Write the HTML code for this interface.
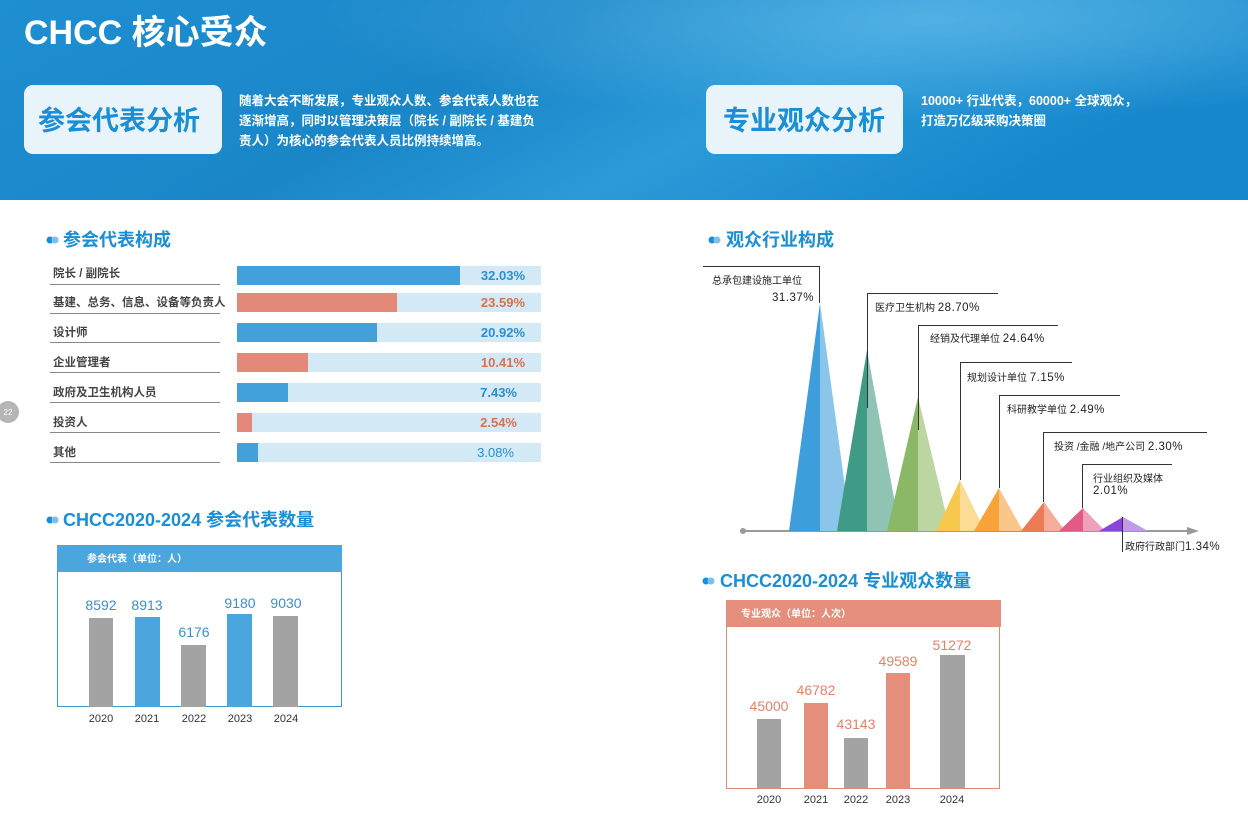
<!DOCTYPE html>
<html><head><meta charset="utf-8"><style>
body{margin:0;width:1248px;height:816px;overflow:hidden;background:#fff;font-family:"Liberation Sans","Noto Sans CJK SC",sans-serif;}
svg{display:block}
</style></head><body>
<svg width="1248" height="816" xmlns="http://www.w3.org/2000/svg" font-family="Liberation Sans, Noto Sans CJK SC, sans-serif">
<defs>
<linearGradient id="hg" x1="0" y1="0" x2="1" y2="0.3">
<stop offset="0" stop-color="#1e8fd2"/><stop offset="0.45" stop-color="#1a86c8"/><stop offset="0.7" stop-color="#2a9ad8"/><stop offset="1" stop-color="#1687cc"/>
</linearGradient>
<radialGradient id="glow" cx="0.75" cy="0.1" r="0.5"><stop offset="0" stop-color="#6cc0ec" stop-opacity="0.6"/><stop offset="1" stop-color="#6cc0ec" stop-opacity="0"/></radialGradient>
</defs>
<rect x="0" y="0" width="1248" height="200" fill="url(#hg)"/>
<rect x="0" y="0" width="1248" height="200" fill="url(#glow)"/>
<text x="24" y="44" font-size="34" font-weight="bold" fill="#fff">CHCC 核心受众</text>
<rect x="24" y="85" width="198" height="69" rx="9" fill="#e9f3fa"/>
<text x="119" y="130" font-size="27" font-weight="bold" fill="#1a8fd6" text-anchor="middle">参会代表分析</text>
<g font-size="12.5" font-weight="bold" fill="#fff">
<text x="239" y="105">随着大会不断发展，专业观众人数、参会代表人数也在</text>
<text x="239" y="125">逐渐增高，同时以管理决策层（院长 / 副院长 / 基建负</text>
<text x="239" y="145">责人）为核心的参会代表人员比例持续增高。</text>
</g>
<rect x="706" y="85" width="197" height="69" rx="9" fill="#e9f3fa"/>
<text x="804" y="130" font-size="27" font-weight="bold" fill="#1a8fd6" text-anchor="middle">专业观众分析</text>
<g font-size="12.5" font-weight="bold" fill="#fff">
<text x="921" y="105">10000+ 行业代表，60000+ 全球观众，</text>
<text x="921" y="125">打造万亿级采购决策圈</text>
</g>

<g font-size="18" font-weight="bold" fill="#1a8fd6">
<circle cx="50" cy="240" r="3.5"/><circle cx="55" cy="240" r="3.5" fill="#7bc0ea"/>
<text x="63" y="246">参会代表构成</text>
<circle cx="50" cy="520" r="3.5"/><circle cx="55" cy="520" r="3.5" fill="#7bc0ea"/>
<text x="63" y="526">CHCC2020-2024 参会代表数量</text>
<circle cx="712" cy="240" r="3.5"/><circle cx="717" cy="240" r="3.5" fill="#7bc0ea"/>
<text x="726" y="246">观众行业构成</text>
<circle cx="706" cy="581" r="3.5"/><circle cx="711" cy="581" r="3.5" fill="#7bc0ea"/>
<text x="720" y="587">CHCC2020-2024 专业观众数量</text>
</g>

<circle cx="8" cy="412" r="11" fill="#b5b5b5"/>
<text x="8" y="415" font-size="8" fill="#fff" text-anchor="middle">22</text>

<g font-size="11.5" font-weight="bold" fill="#444">
<text x="53" y="277">院长 / 副院长</text>
<text x="53" y="306">基建、总务、信息、设备等负责人</text>
<text x="53" y="336">设计师</text>
<text x="53" y="366">企业管理者</text>
<text x="53" y="396">政府及卫生机构人员</text>
<text x="53" y="426">投资人</text>
<text x="53" y="456">其他</text>
</g>
<g stroke="#888" stroke-width="1">
<line x1="50" y1="284.5" x2="220" y2="284.5"/><line x1="50" y1="313.5" x2="220" y2="313.5"/>
<line x1="50" y1="342.5" x2="220" y2="342.5"/><line x1="50" y1="372.5" x2="220" y2="372.5"/>
<line x1="50" y1="402.5" x2="220" y2="402.5"/><line x1="50" y1="432.5" x2="220" y2="432.5"/>
<line x1="50" y1="462.5" x2="220" y2="462.5"/>
</g>
<g fill="#d3e9f6">
<rect x="237" y="266" width="304" height="19"/><rect x="237" y="293" width="304" height="19"/>
<rect x="237" y="323" width="304" height="19"/><rect x="237" y="353" width="304" height="19"/>
<rect x="237" y="383" width="304" height="19"/><rect x="237" y="413" width="304" height="19"/>
<rect x="237" y="443" width="304" height="19"/>
</g>
<rect x="237" y="266" width="223" height="19" fill="#42a1da"/>
<rect x="237" y="293" width="160" height="19" fill="#e3897a"/>
<rect x="237" y="323" width="140" height="19" fill="#42a1da"/>
<rect x="237" y="353" width="71" height="19" fill="#e3897a"/>
<rect x="237" y="383" width="51" height="19" fill="#42a1da"/>
<rect x="237" y="413" width="15" height="19" fill="#e3897a"/>
<rect x="237" y="443" width="21" height="19" fill="#42a1da"/>
<g font-size="13" font-weight="bold" text-anchor="end">
<text x="525" y="280" fill="#2b8fd0">32.03%</text>
<text x="525" y="307" fill="#d9714f">23.59%</text>
<text x="525" y="337" fill="#2b8fd0">20.92%</text>
<text x="525" y="367" fill="#d9714f">10.41%</text>
<text x="517" y="397" fill="#2b8fd0">7.43%</text>
<text x="517" y="427" fill="#d9714f">2.54%</text>
<text x="514" y="457" fill="#2b8fd0" font-weight="normal">3.08%</text>
</g>

<rect x="57.5" y="545.5" width="284" height="161" fill="none" stroke="#3c98cf"/>
<rect x="57" y="545" width="285" height="27" fill="#4aa6dc"/>
<text x="87" y="562" font-size="10" font-weight="bold" fill="#fff">参会代表（单位：人）</text>
<rect x="89" y="618" width="24" height="89" fill="#a3a3a3"/>
<rect x="135" y="617" width="25" height="90" fill="#4aa6dc"/>
<rect x="181" y="645" width="25" height="62" fill="#a3a3a3"/>
<rect x="227" y="614" width="25" height="93" fill="#4aa6dc"/>
<rect x="273" y="616" width="25" height="91" fill="#a3a3a3"/>
<g font-size="14" fill="#3b8fd0" text-anchor="middle">
<text x="101" y="610">8592</text><text x="147" y="610">8913</text><text x="194" y="637">6176</text>
<text x="240" y="608">9180</text><text x="286" y="608">9030</text>
</g>
<g font-size="11" fill="#333" text-anchor="middle">
<text x="101" y="722">2020</text><text x="147" y="722">2021</text><text x="194" y="722">2022</text>
<text x="240" y="722">2023</text><text x="286" y="722">2024</text>
</g>

<rect x="726.5" y="600.5" width="273" height="188" fill="none" stroke="#e3897a"/>
<rect x="726" y="600" width="275" height="27" fill="#e58e7b"/>
<text x="741" y="617" font-size="10" font-weight="bold" fill="#fff">专业观众（单位：人次）</text>
<rect x="757" y="719" width="24" height="69" fill="#a3a3a3"/>
<rect x="804" y="703" width="24" height="85" fill="#e58e7b"/>
<rect x="844" y="738" width="24" height="50" fill="#a3a3a3"/>
<rect x="886" y="673" width="24" height="115" fill="#e58e7b"/>
<rect x="940" y="655" width="25" height="133" fill="#a3a3a3"/>
<g font-size="14" fill="#e3826c" text-anchor="middle">
<text x="769" y="711">45000</text><text x="816" y="695">46782</text><text x="856" y="729">43143</text>
<text x="898" y="666">49589</text><text x="952" y="650">51272</text>
</g>
<g font-size="11" fill="#333" text-anchor="middle">
<text x="769" y="803">2020</text><text x="816" y="803">2021</text><text x="856" y="803">2022</text>
<text x="898" y="803">2023</text><text x="952" y="803">2024</text>
</g>

<line x1="742" y1="531" x2="1190" y2="531" stroke="#999" stroke-width="2"/>
<polygon points="1187,527 1199,531 1187,535" fill="#999"/>
<circle cx="743" cy="531" r="3" fill="#999"/>
<polygon points="789,531 820,303 820,531" fill="#3d9edb"/><polygon points="820,303 851,531 820,531" fill="#8cc5ea"/>
<polygon points="837,531 867,350 867,531" fill="#3f9b86"/><polygon points="867,350 900,531 867,531" fill="#8fc4b5"/>
<polygon points="887,531 918,397 918,531" fill="#8bb866"/><polygon points="918,397 950,531 918,531" fill="#bcd6a2"/>
<polygon points="936,531 960,480 960,531" fill="#f8c84e"/><polygon points="960,480 985,531 960,531" fill="#fbdc97"/>
<polygon points="974,531 999,488 999,531" fill="#f8a23a"/><polygon points="999,488 1023,531 999,531" fill="#fbc68a"/>
<polygon points="1021,531 1044,502 1044,531" fill="#ee7b58"/><polygon points="1044,502 1065,531 1044,531" fill="#f4ae98"/>
<polygon points="1059,531 1083,508 1083,531" fill="#e45a85"/><polygon points="1083,508 1105,531 1083,531" fill="#efa1b9"/>
<polygon points="1099,531 1123,517 1123,531" fill="#8a46d6"/><polygon points="1123,517 1148,531 1123,531" fill="#bf9bea"/>
<g stroke="#333" stroke-width="1" fill="none">
<polyline points="703,266.5 819.5,266.5 819.5,303"/>
<polyline points="998,293.5 867.5,293.5 867.5,408"/>
<polyline points="1058,325.5 918.5,325.5 918.5,430"/>
<polyline points="1072,362.5 960.5,362.5 960.5,480"/>
<polyline points="1120,395.5 999.5,395.5 999.5,488"/>
<polyline points="1207,432.5 1043.5,432.5 1043.5,502"/>
<polyline points="1172,464.5 1082.5,464.5 1082.5,508"/>
<polyline points="1122.5,517 1122.5,552"/>
</g>
<g font-size="10" fill="#222">
<text x="712" y="284">总承包建设施工单位</text>
<text x="814" y="301" text-anchor="end" font-size="11.5" letter-spacing="0.5">31.37%</text>
<text x="875" y="311">医疗卫生机构 <tspan font-size="11.5" letter-spacing="0.5">28.70%</tspan></text>
<text x="930" y="342">经销及代理单位 <tspan font-size="11.5" letter-spacing="0.5">24.64%</tspan></text>
<text x="967" y="381">规划设计单位 <tspan font-size="11.5" letter-spacing="0.5">7.15%</tspan></text>
<text x="1007" y="413">科研教学单位 <tspan font-size="11.5" letter-spacing="0.5">2.49%</tspan></text>
<text x="1054" y="450">投资 /金融 /地产公司 <tspan font-size="11.5" letter-spacing="0.5">2.30%</tspan></text>
<text x="1093" y="482">行业组织及媒体</text>
<text x="1093" y="494" font-size="11.5" letter-spacing="0.5">2.01%</text>
<text x="1125" y="550">政府行政部门<tspan font-size="11.5" letter-spacing="0.5">1.34%</tspan></text>
</g>
</svg>
</body></html>
